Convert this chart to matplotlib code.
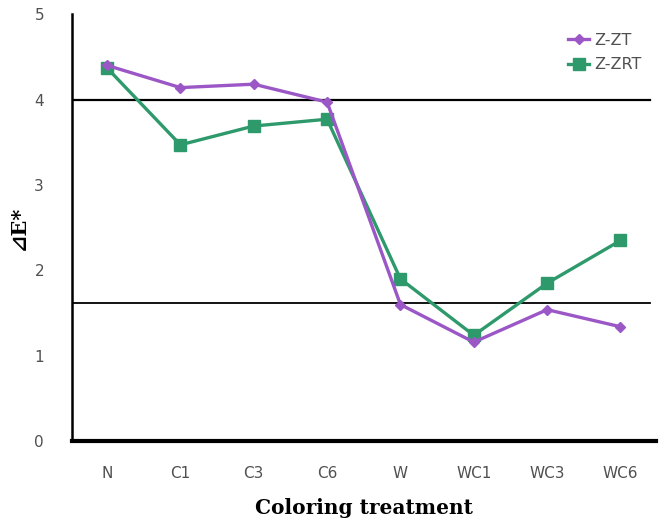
import matplotlib.pyplot as plt
import numpy as np

# treatments along the x axis
treatments = ['N', 'C1', 'C3', 'C6', 'W', 'WC1', 'WC3', 'WC6']

# delta E values
z_zt = [4.40, 4.14, 4.18, 3.97, 1.60, 1.16, 1.54, 1.34]
z_zrt = [4.37, 3.47, 3.69, 3.77, 1.90, 1.24, 1.85, 2.35]

# reference lines
ref_lines = [4.0, 1.62]

purple = '#9B57C6'
green = '#2E9A6C'

fig = plt.figure(figsize=(6.59, 5.24), dpi=100)
ax = fig.add_axes([0.109, 0.158, 0.886, 0.815])

x = np.arange(len(treatments))

for y in ref_lines:
    ax.axhline(y, color='black', lw=1.6 if y > 3 else 1.3, xmin=0, xmax=0.99, zorder=1)

ax.plot(x, z_zt, color=purple, lw=2.4, marker='D', markersize=5.5, label='Z-ZT', zorder=3)
ax.plot(x, z_zrt, color=green, lw=2.4, marker='s', markersize=8, label='Z-ZRT', zorder=2)

ax.set_xlim(-0.48, len(treatments) - 0.52)
ax.set_ylim(0, 5)
ax.set_yticks([0, 1, 2, 3, 4, 5])
ax.set_xticks(x)
ax.set_xticklabels(treatments)

ax.spines['top'].set_visible(False)
ax.spines['right'].set_visible(False)
ax.spines['left'].set_linewidth(1.8)
ax.spines['bottom'].set_linewidth(3)

ax.tick_params(axis='both', length=0, labelsize=11, labelcolor='#505050')
ax.tick_params(axis='y', pad=20)
ax.tick_params(axis='x', pad=18)

ax.set_xlabel('Coloring treatment', fontsize=14.5, fontweight='bold',
              family='DejaVu Serif', labelpad=12)
ax.set_ylabel('⊿E*', fontsize=15, fontweight='bold',
              family=['DejaVu Serif', 'DejaVu Sans'], labelpad=4)

leg = ax.legend(loc='upper right', bbox_to_anchor=(1.0, 0.99), frameon=False,
                fontsize=11.5, handlelength=1.3, handletextpad=0.3, labelspacing=0.6)
for t in leg.get_texts():
    t.set_color('#505050')

fig.savefig('out.png', dpi=100)
